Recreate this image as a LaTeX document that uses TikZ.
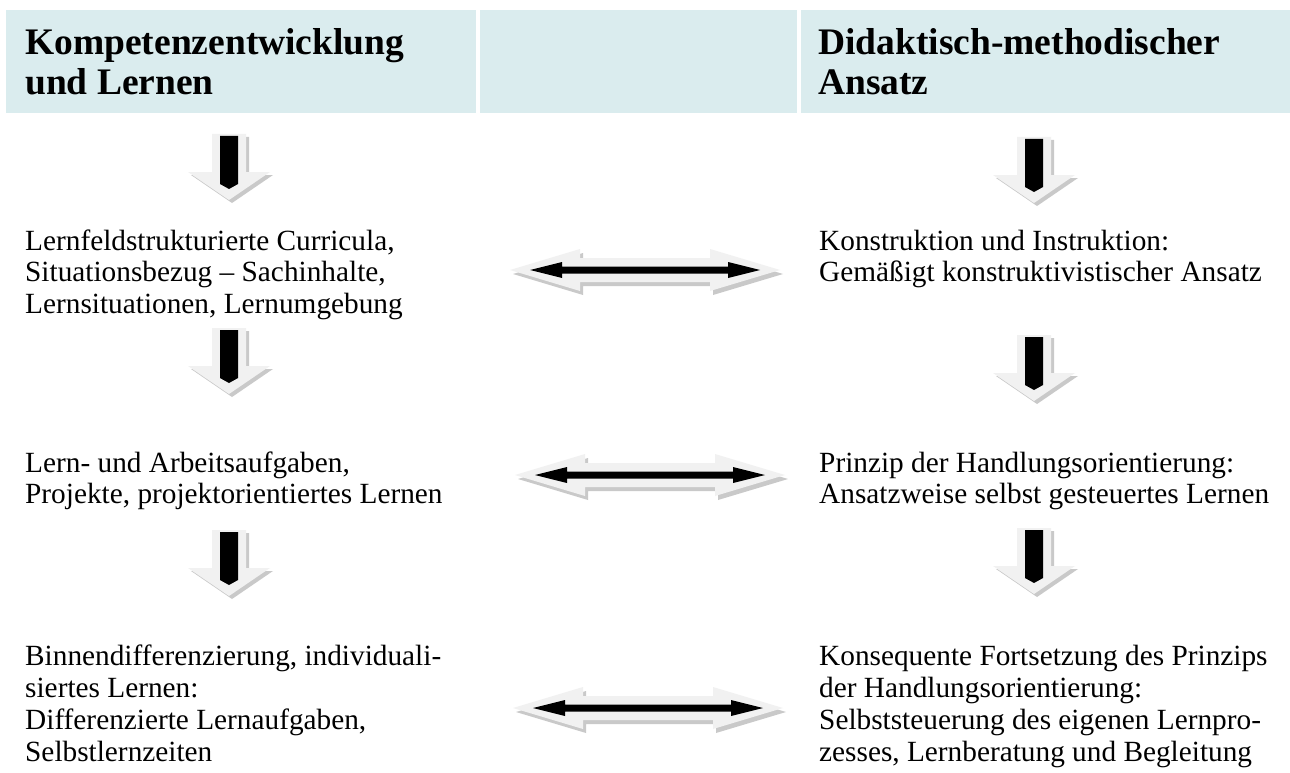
\documentclass[tikz,border=0pt]{standalone}
\usepackage{fontspec}
\setmainfont{Liberation Serif}
\definecolor{hdr}{HTML}{DAECEE}
\definecolor{arrfill}{HTML}{F1F1F1}
\definecolor{arrshadow}{HTML}{C9C9C9}
\tikzset{
  body/.style={anchor=base west, inner sep=0pt, font=\fontsize{29.3}{31.7}\selectfont},
  head/.style={anchor=base west, inner sep=0pt, font=\fontsize{37.5}{40}\selectfont\bfseries},
  pics/downarr/.style={code={
    \fill[arrshadow] (-14,3) -- (20,3) -- (20,41) -- (44,41) -- (3,69) -- (-38,41) -- (-14,41) -- cycle;
    \fill[arrfill] (-17,0) -- (17,0) -- (17,38) -- (41,38) -- (0,66) -- (-41,38) -- (-17,38) -- cycle;
    \fill[black] (-9,2) -- (9,2) -- (9,50) -- (0,55) -- (-9,50) -- cycle;
  }},
  pics/duoarr/.style={code={
    \fill[arrshadow] (-132,4) -- (-62,-17) -- (-62,-8) -- (68,-8) -- (68,-17) -- (138,4) -- (68,25) -- (68,16) -- (-62,16) -- (-62,25) -- cycle;
    \fill[arrfill] (-135,0) -- (-65,-21) -- (-65,-12) -- (65,-12) -- (65,-21) -- (135,0) -- (65,21) -- (65,12) -- (-65,12) -- (-65,21) -- cycle;
    \fill[black] (-115,0) -- (-83,-8) -- (-83,-3.5) -- (83,-3.5) -- (83,-8) -- (115,0) -- (83,8) -- (83,3.5) -- (-83,3.5) -- (-83,8) -- cycle;
  }}
}
\begin{document}
\begin{tikzpicture}[x=1pt,y=-1pt]
\useasboundingbox[fill=white] (0,0) rectangle (1290,773);
% header band
\fill[hdr] (6,10) rectangle (1290,113);
\fill[white] (476,10) rectangle (479.5,113);
\fill[white] (797,10) rectangle (800.5,113);
\node[head] (h1a) at (25,55) {Kompetenzentwicklung};
\node[head] (h1b) at (25,95) {und Lernen};
\node[head] (h2a) at (818,55) {Didaktisch-methodischer};
\node[head] (h2b) at (818,95) {Ansatz};
% down arrows
\pic at (229,134) {downarr};
\pic at (229,328) {downarr};
\pic at (229,530) {downarr};
\pic at (1034,137) {downarr};
\pic at (1034,335) {downarr};
\pic at (1034,528) {downarr};
% double arrows
\pic at (645,270) {duoarr};
\pic at (650,475) {duoarr};
\pic at (648,708) {duoarr};
% left texts
\node[body] (l1a) at (25,250) {Lernfeldstrukturierte Curricula,};
\node[body] (l1b) at (25,281.5) {Situationsbezug – Sachinhalte,};
\node[body] (l1c) at (25,313) {Lernsituationen, Lernumgebung};
\node[body] (l2a) at (25,472) {Lern- und Arbeitsaufgaben,};
\node[body] (l2b) at (25,503.5) {Projekte, projektorientiertes Lernen};
\node[body] (l3a) at (25,665) {Binnendifferenzierung, individuali-};
\node[body] (l3b) at (25,697) {siertes Lernen:};
\node[body] (l3c) at (25,729) {Differenzierte Lernaufgaben,};
\node[body] (l3d) at (25,761) {Selbstlernzeiten};
% right texts
\node[body] (r1a) at (819,250) {Konstruktion und Instruktion:};
\node[body] (r1b) at (819,281.5) {Gemäßigt konstruktivistischer Ansatz};
\node[body] (r2a) at (819,472) {Prinzip der Handlungsorientierung:};
\node[body] (r2b) at (819,503.5) {Ansatzweise selbst gesteuertes Lernen};
\node[body] (r3a) at (819,665) {Konsequente Fortsetzung des Prinzips};
\node[body] (r3b) at (819,697) {der Handlungsorientierung:};
\node[body] (r3c) at (819,729) {Selbststeuerung des eigenen Lernpro-};
\node[body] (r3d) at (819,761) {zesses, Lernberatung und Begleitung};
\end{tikzpicture}
\end{document}
